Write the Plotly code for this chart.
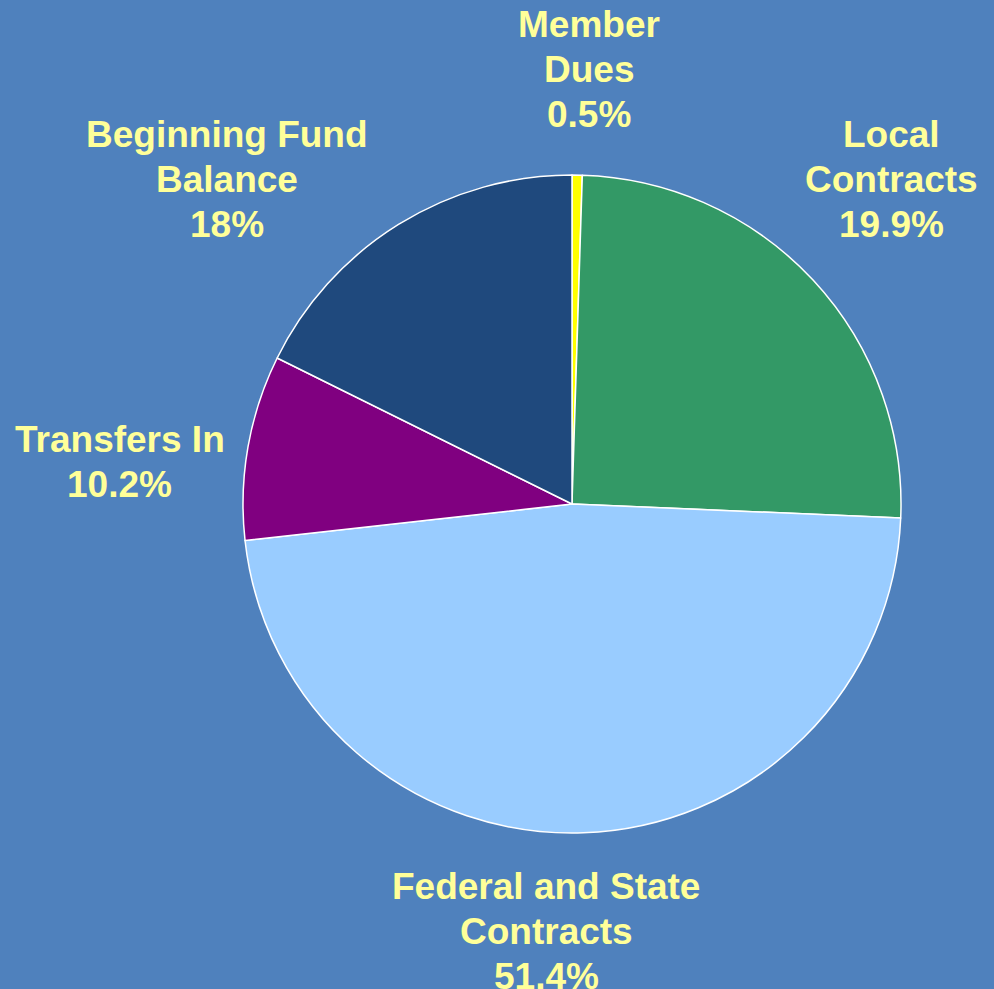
import plotly.graph_objects as go

# Data (slice sizes as drawn, label text as printed)
categories = ["Member Dues", "Local Contracts", "Federal and State Contracts",
              "Transfers In", "Beginning Fund Balance"]
values = [0.5, 25.2, 47.6, 9.1, 17.7]
label_lines = [["Member", "Dues"], ["Local", "Contracts"], ["Federal and State", "Contracts"],
               ["Transfers In"], ["Beginning Fund", "Balance"]]
printed_pct = ["0.5%", "19.9%", "51.4%", "10.2%", "18%"]
colors = ["#FFFF00", "#339966", "#99CCFF", "#800080", "#1F497D"]

# label centre x and first-line y in pixels (from top)
label_pos = [(589, 24), (891, 134.5), (546, 886), (119.5, 439.5), (227, 134.5)]
LINE_STEP = 45.2

W, H = 994, 989
BG = "#4F81BD"
cx, cy, r = 572, 504, 329

fig = go.Figure(go.Pie(
    labels=categories,
    values=values,
    sort=False,
    direction="clockwise",
    rotation=0,
    marker=dict(colors=colors, line=dict(color="white", width=1.5)),
    textinfo="none",
    hoverinfo="label+percent",
    showlegend=False,
    domain=dict(x=[(cx - r) / W, (cx + r) / W],
                y=[(H - cy - r) / H, (H - cy + r) / H]),
))

for lines, pct, (px, py) in zip(label_lines, printed_pct, label_pos):
    for i, line in enumerate(lines + [pct]):
        yy = py + i * LINE_STEP
        fig.add_annotation(
            x=px / W, y=1 - yy / H, xref="paper", yref="paper",
            text=f"<b>{line}</b>", showarrow=False,
            xanchor="center", yanchor="middle", align="center",
            font=dict(family="Liberation Sans, Arial, sans-serif", size=37, color="#FFFF99"),
        )

fig.update_layout(
    width=W, height=H,
    margin=dict(l=0, r=0, t=0, b=0),
    paper_bgcolor=BG, plot_bgcolor=BG,
)

fig.write_html(
    "out.html",
    config={"displayModeBar": False},
    post_script="document.body.style.margin='0';document.body.style.padding='0';"
                "document.body.style.overflow='hidden';",
)
